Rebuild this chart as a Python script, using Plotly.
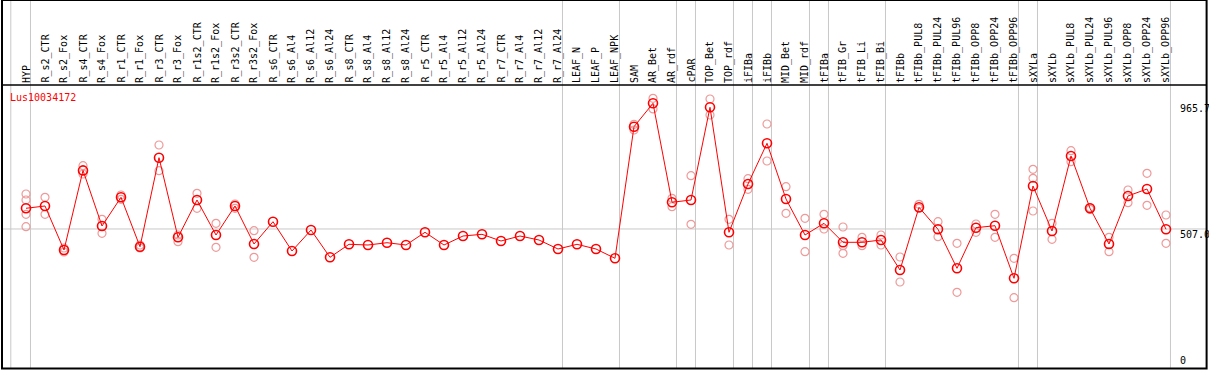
import plotly.graph_objects as go

categories = ["HYP", "R_s2_CTR", "R_s2_Fox", "R_s4_CTR", "R_s4_Fox", "R_r1_CTR", "R_r1_Fox",
              "R_r3_CTR", "R_r3_Fox", "R_r1s2_CTR", "R_r1s2_Fox", "R_r3s2_CTR", "R_r3s2_Fox",
              "R_s6_CTR", "R_s6_Al4", "R_s6_Al12", "R_s6_Al24", "R_s8_CTR", "R_s8_Al4", "R_s8_Al12",
              "R_s8_Al24", "R_r5_CTR", "R_r5_Al4", "R_r5_Al12", "R_r5_Al24", "R_r7_CTR", "R_r7_Al4",
              "R_r7_Al12", "R_r7_Al24", "LEAF_N", "LEAF_P", "LEAF_NPK", "SAM", "AR_Bet", "AR_rdf",
              "cPAR", "TOP_Bet", "TOP_rdf", "iFIBa", "iFIBb", "MID_Bet", "MID_rdf", "tFIBa",
              "tFIB_Gr", "tFIB_Li", "tFIB_Bi", "tFIBb", "tFIBb_PUL8", "tFIBb_PUL24", "tFIBb_PUL96",
              "tFIBb_OPP8", "tFIBb_OPP24", "tFIBb_OPP96", "sXYLa", "sXYLb", "sXYLb_PUL8",
              "sXYLb_PUL24", "sXYLb_PUL96", "sXYLb_OPP8", "sXYLb_OPP24", "sXYLb_OPP96"]

mean_values = [582.5, 590.9, 430.3, 720.8, 517.9, 622.6, 442.3, 767.2, 476.6, 612.8, 485.0,
               590.9, 452.2, 533.6, 426.6, 503.3, 403.6, 451.1, 448.5, 456.9, 448.5, 494.9,
               448.5, 481.4, 487.6, 463.1, 481.4, 466.8, 433.9, 451.1, 433.9, 400.0, 880.3,
               965.7, 604.4, 612.8, 951.1, 494.9, 671.2, 819.7, 616.4, 485.0, 527.7, 458.4,
               458.4, 466.8, 357.3, 586.1, 505.8, 363.5, 511.7, 519.0, 327.0, 663.9, 499.6,
               773.4, 582.5, 452.2, 627.4, 652.9, 505.8]

replicates = [[634.7, 612.8, 560.6, 515.3], [622.6, 560.6], [437.6, 423.0], [738.0, 707.7],
              [542.3, 491.2], [631.0, 615.3], [448.5, 437.6], [813.5, 719.7], [485.0, 460.6],
              [637.2, 582.5], [527.7, 440.1], [598.2, 582.5], [500.7, 403.6],
              [], [], [], [], [], [], [], [], [], [], [], [], [], [], [], [], [], [], [],
              [889.1, 868.2], [984.0, 945.0], [619.0, 588.3], [701.5, 524.1], [981.4, 923.0],
              [542.3, 448.5], [690.5, 651.8], [890.1, 755.1], [661.3, 564.2], [546.0, 424.1],
              [560.6, 506.9], [514.2, 446.0, 418.2], [476.6, 446.0], [485.0, 448.5],
              [404.7, 313.5], [597.1, 582.5], [533.6, 478.8], [454.7, 275.9], [525.2, 494.9],
              [560.6, 476.6], [400.0, 256.2], [724.8, 692.0, 572.6], [527.7, 469.3],
              [792.7, 752.6], [584.7, 578.8], [476.6, 424.1], [649.3, 602.9], [710.2, 593.4],
              [558.0, 454.7]]

group_ends = [0, 28, 31, 34, 35, 37, 38, 39, 41, 42, 45, 52, 53, 60]
gene_name = "Lus10034172"
tick_values = [965.7, 507.0, 0]
tick_labels = ["965.7", "507.0", "0"]
ref_line = 507.0

W, H = 1209, 370
ML, MR, MT, MB = 2, 2, 0, 1
PW = W - ML - MR
PH = H - MT - MB
x0_px, step_px = 26.0, 19.0
y_zero_px, y_scale = 367.9, 0.274
x_range = [(ML - x0_px) / step_px, (ML + PW - x0_px) / step_px]
y_range = [(y_zero_px - (MT + PH)) / y_scale, (y_zero_px - MT) / y_scale]


def px_to_paper_y(py):
    return (MT + PH - py) / PH


def px_to_paper_x(px):
    return (px - ML) / PW


xs = list(range(len(categories)))
rep_x, rep_y = [], []
for i, reps in enumerate(replicates):
    for v in reps:
        rep_x.append(i)
        rep_y.append(v)

fig = go.Figure()
fig.add_trace(go.Scatter(x=rep_x, y=rep_y, mode="markers",
                         marker=dict(symbol="circle-open", size=8, color="#ee9a9a",
                                     line=dict(width=1.2, color="#ee9a9a")),
                         showlegend=False, hoverinfo="skip"))
fig.add_trace(go.Scatter(x=xs, y=mean_values, mode="lines+markers",
                         line=dict(color="#ff0000", width=1),
                         marker=dict(symbol="circle-open", size=9, color="#ff0000",
                                     line=dict(width=1.6, color="#ff0000")),
                         showlegend=False))

shapes = []
shapes.append(dict(type="line", xref="x", yref="paper", x0=-0.8, x1=-0.8, y0=0, y1=1,
                   line=dict(color="#c8c8c8", width=1), layer="below"))
for g in group_ends:
    shapes.append(dict(type="line", xref="x", yref="paper", x0=g + 0.235, x1=g + 0.235,
                       y0=0, y1=1, line=dict(color="#c8c8c8", width=1), layer="below"))
shapes.append(dict(type="line", xref="paper", yref="y", x0=0, x1=1, y0=ref_line, y1=ref_line,
                   line=dict(color="#c8c8c8", width=1), layer="below"))
shapes.append(dict(type="rect", xref="paper", yref="paper", x0=0, x1=px_to_paper_x(1206.6),
                   y0=px_to_paper_y(368.6), y1=1, line=dict(color="black", width=2),
                   fillcolor="rgba(0,0,0,0)"))
shapes.append(dict(type="line", xref="paper", yref="paper", x0=0, x1=1,
                   y0=px_to_paper_y(85), y1=px_to_paper_y(85), line=dict(color="black", width=1.5)))

annotations = []
lab_font = dict(family="DejaVu Sans Mono", size=10, color="black")
for i, c in enumerate(categories):
    annotations.append(dict(x=i, xref="x", y=px_to_paper_y(84), yref="paper", text=c,
                            textangle=-90, showarrow=False, xanchor="center", yanchor="bottom",
                            font=lab_font, borderpad=0))
annotations.append(dict(x=px_to_paper_x(8), xref="paper", y=px_to_paper_y(97), yref="paper",
                        text=gene_name, showarrow=False, xanchor="left", yanchor="middle",
                        font=dict(family="DejaVu Sans Mono", size=10, color="#ff0000")))
for v, t in zip(tick_values, tick_labels):
    annotations.append(dict(x=px_to_paper_x(1178), xref="paper", y=v, yref="y", text=t,
                            showarrow=False, xanchor="left",
                            yanchor="bottom" if v == 0 else "top",
                            yshift=2 if v != 0 else 0,
                            font=dict(family="DejaVu Sans Mono", size=10, color="black")))

fig.update_layout(
    width=W, height=H, margin=dict(l=ML, r=MR, t=MT, b=MB, pad=0),
    paper_bgcolor="white", plot_bgcolor="white",
    xaxis=dict(range=x_range, visible=False, showgrid=False, zeroline=False, fixedrange=True),
    yaxis=dict(range=y_range, visible=False, showgrid=False, zeroline=False, fixedrange=True),
    shapes=shapes, annotations=annotations, showlegend=False,
)
fig.write_html("out.html", config={"displayModeBar": False},
               post_script="document.body.style.margin='0';document.body.style.overflow='hidden';")
